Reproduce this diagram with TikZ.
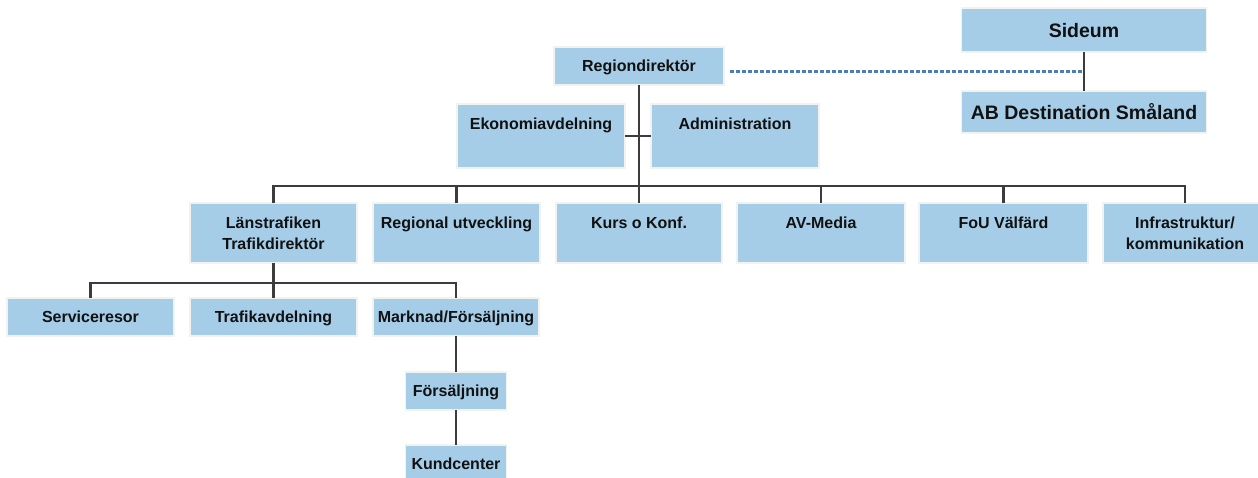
\documentclass[tikz,border=0pt]{standalone}
\usepackage{fontspec}
\setmainfont{Liberation Sans}
\usetikzlibrary{calc}
\definecolor{boxblue}{HTML}{A6CDE8}
\definecolor{boxedge}{HTML}{F2F3EE}
\definecolor{linegray}{HTML}{3C3C3C}
\definecolor{dotblue}{HTML}{4A7EBB}
\definecolor{txt}{HTML}{111111}
\newcommand{\topbx}[3]{\parbox[c][#1][t]{#2}{\centering\rule{0pt}{25pt}#3}}
\tikzset{
  box/.style={fill=boxblue, draw=boxedge, line width=1.4pt, inner sep=0pt, outer sep=0pt,
    font=\fontsize{16pt}{21pt}\selectfont\bfseries, text=txt, align=center},
  cbox/.style={box, text height=11.5pt, text depth=0pt},
  bigbox/.style={box, font=\fontsize{19.5pt}{24pt}\selectfont\bfseries, text height=14pt, text depth=0pt},
  conn/.style={draw=linegray, line width=2.8pt},
  dotl/.style={draw=dotblue, line width=2.8pt, dash pattern=on 4pt off 2pt}
}
\begin{document}
\begin{tikzpicture}[x=1pt,y=-1pt]
\useasboundingbox (0,0) rectangle (1258,477);
\clip (0,0) rectangle (1258,477);

% top level
\node[cbox, minimum width=170pt, minimum height=38pt] (regdir) at (639,66) {Regiondirektör};
\node[box, minimum width=168pt, minimum height=64pt] (ekon) at (541,136) {\topbx{64pt}{166pt}{Ekonomiavdelning}};
\node[box, minimum width=168pt, minimum height=64pt] (admin) at (735,136) {\topbx{64pt}{166pt}{Administration}};

\node[bigbox, minimum width=245pt, minimum height=44pt] (sideum) at (1084,30) {Sideum};
\node[bigbox, minimum width=245pt, minimum height=42pt] (abd) at (1084,112) {AB Destination Småland};

% second level
\node[box, minimum width=167pt, minimum height=60pt] (lan) at (273.5,233) {\topbx{60pt}{165pt}{Länstrafiken\\Trafikdirektör}};
\node[box, minimum width=167pt, minimum height=60pt] (reg) at (456.5,233) {\topbx{60pt}{165pt}{Regional utveckling}};
\node[box, minimum width=166pt, minimum height=60pt] (kurs) at (639,233) {\topbx{60pt}{164pt}{Kurs o Konf.}};
\node[box, minimum width=168pt, minimum height=60pt] (av) at (821,233) {\topbx{60pt}{166pt}{AV-Media}};
\node[box, minimum width=169pt, minimum height=60pt] (fou) at (1003.5,233) {\topbx{60pt}{167pt}{FoU Välfärd}};
\node[box, minimum width=164pt, minimum height=60pt] (infra) at (1185,233) {\topbx{60pt}{162pt}{Infrastruktur/\\kommunikation}};

% third level
\node[cbox, minimum width=167pt, minimum height=38pt] (serv) at (90.5,317) {Serviceresor};
\node[cbox, minimum width=167pt, minimum height=38pt] (traf) at (273.5,317) {Trafikavdelning};
\node[cbox, minimum width=166pt, minimum height=38pt] (mark) at (456,317) {Marknad/Försäljning};
\node[cbox, minimum width=101pt, minimum height=38pt] (fors) at (456,391) {Försäljning};
\node[cbox, minimum width=101pt, minimum height=38pt] (kund) at (456,464) {Kundcenter};

% connectors
\coordinate (bus) at (639,186);
\coordinate (sub) at (273.5,283);
\coordinate (dotend) at ($(sideum.south)!0.5!(abd.north)$);

\draw[conn] (regdir.south) -- (kurs.north);
\draw[conn] (ekon.east) -- (admin.west);
\draw[conn] (lan.north) -- (lan.north |- bus) -- (infra.north |- bus) -- (infra.north);
\draw[conn] (reg.north) -- (reg.north |- bus);
\draw[conn] (av.north) -- (av.north |- bus);
\draw[conn] (fou.north) -- (fou.north |- bus);

\draw[conn] (lan.south) -- (traf.north);
\draw[conn] (serv.north) -- (serv.north |- sub) -- (mark.north |- sub) -- (mark.north);
\draw[conn] (mark.south) -- (fors.north);
\draw[conn] (fors.south) -- (kund.north);

\draw[conn] (sideum.south) -- (abd.north);
\draw[dotl] ([xshift=6pt]regdir.east |- dotend) -- (dotend);
\end{tikzpicture}
\end{document}
